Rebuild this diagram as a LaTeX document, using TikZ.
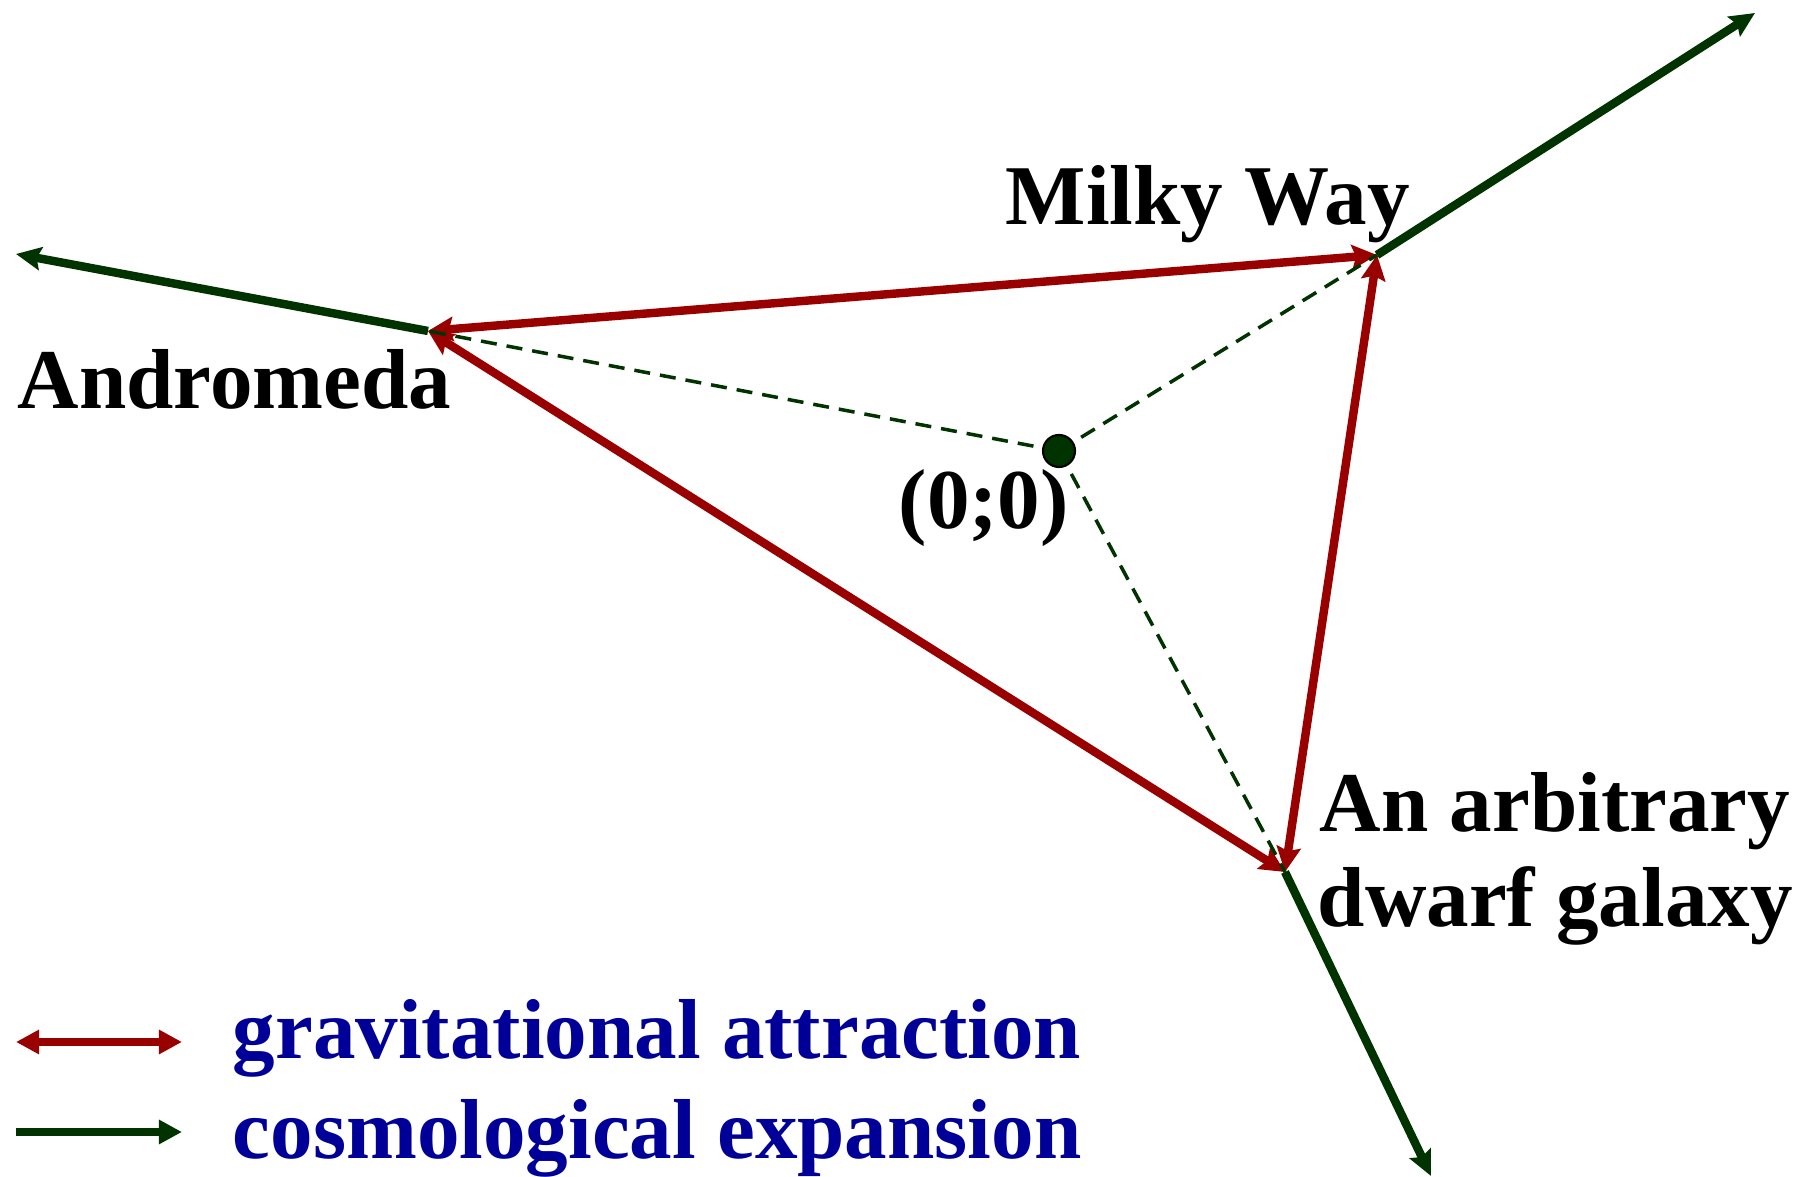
\documentclass[tikz,border=0pt]{standalone}
\usepackage{fontspec}
\setmainfont{Liberation Serif}
\usetikzlibrary{arrows.meta}
\definecolor{gvRed}{HTML}{990000}
\definecolor{gvGreen}{HTML}{003300}
\definecolor{gvBlue}{HTML}{000099}

\begin{document}
\begin{tikzpicture}[
  x=0.01cm, y=-0.01cm,
  pull/.style={{Stealth[length=0.25cm,width=0.24cm,inset=0.04cm]}-{Stealth[length=0.25cm,width=0.24cm,inset=0.04cm]},
               line width=2.4pt, color=gvRed},
  push/.style={-{Stealth[length=0.25cm,width=0.23cm,inset=0.04cm]}, line width=2.4pt, color=gvGreen},
  keypull/.style={{Triangle[length=0.23cm,width=0.23cm]}-{Triangle[length=0.23cm,width=0.23cm]},
                  line width=2.2pt, color=gvRed},
  keypush/.style={-{Triangle[length=0.23cm,width=0.23cm]}, line width=2.4pt, color=gvGreen},
  guide/.style={dash pattern=on 0.16cm off 0.1cm, line width=1pt, color=gvGreen},
  galname/.style={font=\fontsize{24.2}{29}\selectfont\bfseries, inner sep=0pt, anchor=base west},
  keytext/.style={galname, text=gvBlue}
]
  \useasboundingbox (0,0) rectangle (1796,1177);

  % Galaxies
  \coordinate (andromeda) at (428,331);
  \coordinate (milkyway) at (1377,255);
  \coordinate (dwarf) at (1285,872);
  \coordinate (origin) at (1059,451);
  % Expansion ends
  \coordinate (andromedaOut) at (16,254);
  \coordinate (milkywayOut) at (1755,13);
  \coordinate (dwarfOut) at (1431,1176);

  \draw[pull] (andromeda) -- (milkyway);
  \draw[pull] (andromeda) -- (dwarf);
  \draw[pull] (milkyway) -- (dwarf);

  \draw[guide] (origin) -- (andromeda);
  \draw[guide] (origin) -- (milkyway);
  \draw[guide] (origin) -- (dwarf);

  \draw[push] (andromeda) -- (andromedaOut);
  \draw[push] (milkyway) -- (milkywayOut);
  \draw[push] (dwarf) -- (dwarfOut);

  \node[circle, draw=black, fill=gvGreen, line width=0.6pt, minimum size=0.32cm, inner sep=0pt] (dot) at (origin) {};

  \node[galname] (mwText) at (1005,225) {Milky Way};
  \node[galname] (anText) at (17,409) {Andromeda};
  \node[galname] (orText) at (898,529) {(0;0)};
  \node[galname] (dwText1) at (1319,832) {An arbitrary};
  \node[galname] (dwText2) at (1317,927) {dwarf galaxy};

  % Legend
  \coordinate (keyA) at (16,1042);
  \coordinate (keyB) at (182,1042);
  \coordinate (keyC) at (16,1132);
  \coordinate (keyD) at (182,1132);
  \draw[keypull] (keyA) -- (keyB);
  \draw[keypush] (keyC) -- (keyD);
  \node[keytext] (gravText) at (232,1059) {gravitational attraction};
  \node[keytext] (cosmoText) at (232,1159) {cosmological expansion};
\end{tikzpicture}
\end{document}
